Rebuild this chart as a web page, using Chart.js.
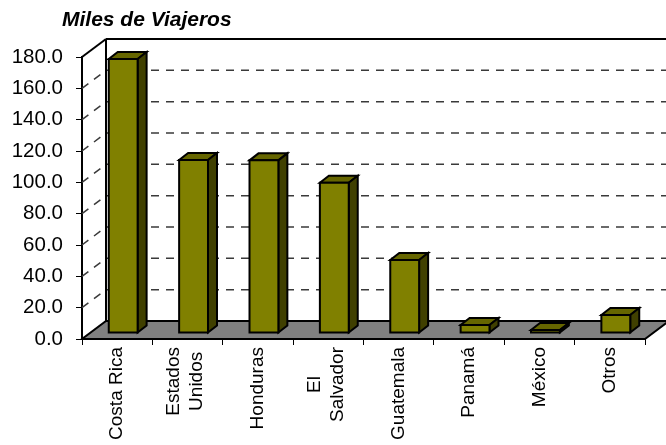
<!DOCTYPE html>
<html>
<head>
<meta charset="utf-8">
<script src="https://cdn.jsdelivr.net/npm/chart.js@4/dist/chart.umd.min.js"></script>
<style>
  html, body { margin: 0; padding: 0; background: #fff; }
</style>
</head>
<body>
<canvas id="chart" width="666" height="445"></canvas>
<script>
const titleText = "Miles de Viajeros";
const paises = [["Costa Rica"], ["Estados", "Unidos"], ["Honduras"], ["El", "Salvador"],
  ["Guatemala"], ["Panamá"], ["México"], ["Otros"]];
const viajeros = [174.9, 110.4, 110.2, 95.9, 46.6, 5.1, 1.9, 11.5];
const yTickValues = [0, 20, 40, 60, 80, 100, 120, 140, 160, 180];

// fake 3d look of the old excel chart
const depth = { dx: 24, dy: -18 };   // back wall offset
const barShift = { dx: 6, dy: -6 };  // bar front face sits a bit behind the front plane
const barDepth = { dx: 9, dy: -7 };
const FONT = '"Liberation Sans", Arial, sans-serif';

function line(ctx, x1, y1, x2, y2) {
  ctx.beginPath();
  ctx.moveTo(x1, y1);
  ctx.lineTo(x2, y2);
  ctx.stroke();
}

function poly(ctx, pts, fill) {
  ctx.beginPath();
  ctx.moveTo(pts[0][0], pts[0][1]);
  for (let i = 1; i < pts.length; i++) ctx.lineTo(pts[i][0], pts[i][1]);
  ctx.closePath();
  ctx.fillStyle = fill;
  ctx.fill();
  ctx.stroke();
}

const walls3d = {
  id: "walls3d",
  beforeDatasetsDraw(chart) {
    const ctx = chart.ctx;
    const a = chart.chartArea;
    const y = chart.scales.y;
    ctx.save();
    // dashed gridlines on the back wall and the left wall
    ctx.strokeStyle = "#3a3a3a";
    ctx.lineWidth = 1.5;
    ctx.setLineDash([8, 7]);
    yTickValues.forEach(v => {
      if (v === yTickValues[0] || v === yTickValues[yTickValues.length - 1]) return;
      const py = y.getPixelForValue(v);
      line(ctx, a.left + depth.dx, py + depth.dy, chart.width, py + depth.dy);
      line(ctx, a.left, py, a.left + depth.dx, py + depth.dy);
    });
    ctx.setLineDash([]);
    // frame
    ctx.strokeStyle = "#000";
    ctx.lineWidth = 2;
    line(ctx, a.left, a.top, a.left + depth.dx, a.top + depth.dy);
    line(ctx, a.left + depth.dx, a.top + depth.dy, chart.width, a.top + depth.dy);
    line(ctx, a.left + depth.dx, a.top + depth.dy, a.left + depth.dx, a.bottom + depth.dy);
    // floor
    poly(ctx, [
      [a.left, a.bottom], [a.right, a.bottom],
      [a.right + depth.dx, a.bottom + depth.dy], [a.left + depth.dx, a.bottom + depth.dy]
    ], "#808080");
    ctx.restore();
  },
  afterDatasetsDraw(chart) {
    const ctx = chart.ctx;
    const meta = chart.getDatasetMeta(0);
    ctx.save();
    ctx.strokeStyle = "#000";
    ctx.lineWidth = 2;
    ctx.lineJoin = "miter";
    meta.data.forEach(bar => {
      const p = bar.getProps(["x", "y", "base", "width"], true);
      const l = p.x - p.width / 2 + barShift.dx;
      const r = p.x + p.width / 2 + barShift.dx;
      const t = p.y + barShift.dy;
      const b = p.base + barShift.dy;
      poly(ctx, [[l, t], [r, t], [r + barDepth.dx, t + barDepth.dy], [l + barDepth.dx, t + barDepth.dy]], "#666600");
      poly(ctx, [[r, t], [r + barDepth.dx, t + barDepth.dy], [r + barDepth.dx, b + barDepth.dy], [r, b]], "#404000");
      poly(ctx, [[l, t], [r, t], [r, b], [l, b]], "#808000");
    });
    ctx.restore();
  },
  afterDraw(chart) {
    const ctx = chart.ctx;
    const a = chart.chartArea;
    const x = chart.scales.x;
    ctx.save();
    ctx.fillStyle = "#000";
    ctx.font = "italic bold 21px " + FONT;
    ctx.textBaseline = "alphabetic";
    ctx.textAlign = "left";
    ctx.fillText(titleText, 62, 26);

    // category labels, rotated, lines centred on each other
    ctx.font = "19px " + FONT;
    const lh = 23;
    paises.forEach((lines, i) => {
      const cx = x.getPixelForValue(i) - (lines.length > 1 ? 2 : 0);
      const maxW = Math.max(...lines.map(s => ctx.measureText(s).width));
      lines.forEach((s, j) => {
        const lx = cx + (j - (lines.length - 1) / 2) * lh;
        ctx.save();
        ctx.translate(lx, a.bottom + 8 + maxW / 2);
        ctx.rotate(-Math.PI / 2);
        ctx.textAlign = "center";
        ctx.textBaseline = "middle";
        ctx.fillText(s, 0, 0);
        ctx.restore();
      });
    });
    ctx.restore();
  }
};

new Chart(document.getElementById("chart"), {
  type: "bar",
  data: {
    labels: paises,
    datasets: [{
      data: viajeros,
      backgroundColor: "rgba(0,0,0,0)",
      borderWidth: 0,
      categoryPercentage: 1,
      barPercentage: 0.41
    }]
  },
  options: {
    responsive: false,
    animation: false,
    events: [],
    layout: { padding: { left: 0, right: 21, top: 57, bottom: 0 } },
    plugins: { legend: { display: false }, tooltip: { enabled: false } },
    scales: {
      x: {
        offset: true,
        grid: { display: true, drawOnChartArea: false, drawTicks: true, tickLength: 6, offset: true, color: "#000", lineWidth: 1 },
        border: { display: true, color: "#000", width: 2 },
        ticks: { display: false },
        afterFit(scale) { scale.height = 106; }
      },
      y: {
        min: yTickValues[0],
        max: yTickValues[yTickValues.length - 1],
        afterBuildTicks(scale) { scale.ticks = yTickValues.map(v => ({ value: v })); },
        grid: { display: true, drawOnChartArea: false, drawTicks: true, tickLength: 6, color: "#000", lineWidth: 1 },
        border: { display: true, color: "#000", width: 2 },
        ticks: {
          padding: 13,
          color: "#000",
          font: { family: FONT, size: 20.5 },
          callback: v => Number(v).toFixed(1)
        },
        afterFit(scale) { scale.width = 82; }
      }
    }
  },
  plugins: [walls3d]
});
</script>
</body>
</html>
